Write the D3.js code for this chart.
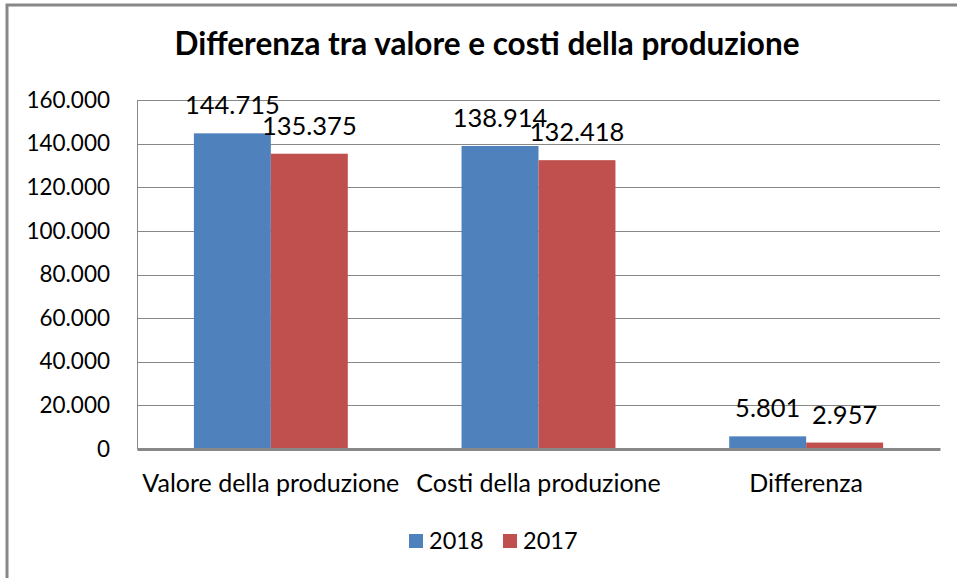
<!DOCTYPE html>
<html>
<head>
<meta charset="utf-8">
<script src="https://cdn.jsdelivr.net/npm/d3@7"></script>
<style>
body { margin: 0; background: #fff; }
text { font-family: Lato, "DejaVu Sans", sans-serif; fill: #000; }
</style>
</head>
<body>
<div id="chart"></div>
<script>
chart_width = 957;
chart_height = 578;

categories = ['Valore della produzione', 'Costi della produzione', 'Differenza'];
series_names = ['2018', '2017'];
values_2018 = [144715, 138914, 5801];
values_2017 = [135375, 132418, 2957];
y_ticks = [0, 20000, 40000, 60000, 80000, 100000, 120000, 140000, 160000];

colors = ['#4F81BD', '#C0504D'];

it_locale = d3.formatLocale({ decimal: ',', thousands: '.', grouping: [3], currency: ['€', ''] });
fmt = it_locale.format(',d');

margin = { left: 137, right: 17, top: 100, bottom: 129 };
plot_w = chart_width - margin.left - margin.right;
plot_h = chart_height - margin.top - margin.bottom;

svg = d3.select('#chart')
	.append('svg')
	.attr('width', chart_width)
	.attr('height', chart_height);

// outer chart border
svg.append('rect')
	.attr('x', 7)
	.attr('y', 5)
	.attr('width', 980)
	.attr('height', 600)
	.attr('fill', 'none')
	.attr('stroke', '#888')
	.attr('stroke-width', 3);

svg.append('text')
	.attr('x', 487)
	.attr('y', 55)
	.attr('text-anchor', 'middle')
	.attr('font-weight', 'bold')
	.attr('font-size', 31.5)
	.text('Differenza tra valore e costi della produzione');

g = svg.append('g')
	.attr('transform', 'translate(' + margin.left + ',' + margin.top + ')');

x0 = d3.scaleBand()
	.domain(categories)
	.range([0, plot_w])
	.paddingInner(0.425)
	.paddingOuter(0.2125);

x1 = d3.scaleBand()
	.domain(series_names)
	.range([0, x0.bandwidth()]);

y = d3.scaleLinear()
	.domain([0, 160000])
	.range([plot_h, 0]);

// gridlines
g.selectAll('line.grid')
	.data(y_ticks.slice(1))
	.enter()
	.append('line')
	.attr('class', 'grid')
	.attr('x1', 0)
	.attr('x2', plot_w)
	.attr('y1', (d) => Math.round(y(d)) + 0.5)
	.attr('y2', (d) => Math.round(y(d)) + 0.5)
	.attr('stroke', '#888')
	.attr('stroke-width', 1);

// y axis
y_axis = g.append('g')
	.call(d3.axisLeft(y).tickValues(y_ticks).tickFormat(fmt).tickSize(0).tickPadding(27));
y_axis.select('.domain').attr('stroke', '#888');
y_axis.selectAll('text')
	.attr('font-size', 22.5)
	.attr('font-family', 'Lato')
	.attr('fill', '#000');

rows = categories.map(function(c, i) {
	return { category: c, vals: [
		{ key: '2018', value: values_2018[i] },
		{ key: '2017', value: values_2017[i] }
	] };
});

groups = g.selectAll('g.cat')
	.data(rows)
	.enter()
	.append('g')
	.attr('class', 'cat')
	.attr('transform', (d) => 'translate(' + x0(d.category) + ',0)');

groups.selectAll('rect')
	.data((d) => d.vals)
	.enter()
	.append('rect')
	.attr('x', (d) => x1(d.key))
	.attr('y', (d) => y(d.value))
	.attr('width', x1.bandwidth())
	.attr('height', (d) => plot_h - y(d.value))
	.attr('fill', (d, i) => colors[i]);

groups.selectAll('text.lbl')
	.data((d) => d.vals)
	.enter()
	.append('text')
	.attr('class', 'lbl')
	.attr('x', (d) => x1(d.key) + x1.bandwidth() / 2)
	.attr('y', (d) => y(d.value) - 19)
	.attr('text-anchor', 'middle')
	.attr('font-size', 25.5)
	.text((d) => fmt(d.value));

// x axis
x_axis = g.append('g')
	.attr('transform', 'translate(0,' + plot_h + ')')
	.call(d3.axisBottom(x0).tickSize(0).tickPadding(25));
x_axis.select('.domain').attr('stroke', '#888').attr('stroke-width', 3);
x_axis.selectAll('text')
	.attr('font-size', 25)
	.attr('font-family', 'Lato')
	.attr('fill', '#000');

// legend
legend = svg.append('g')
	.attr('transform', 'translate(409,534)');

legend_items = legend.selectAll('g')
	.data(series_names)
	.enter()
	.append('g')
	.attr('transform', (d, i) => 'translate(' + (i * 94) + ',0)');

legend_items.append('rect')
	.attr('width', 14)
	.attr('height', 14)
	.attr('fill', (d, i) => colors[i]);

legend_items.append('text')
	.attr('x', 20)
	.attr('y', 15)
	.attr('font-size', 23.5)
	.text((d) => d);
</script>
</body>
</html>
